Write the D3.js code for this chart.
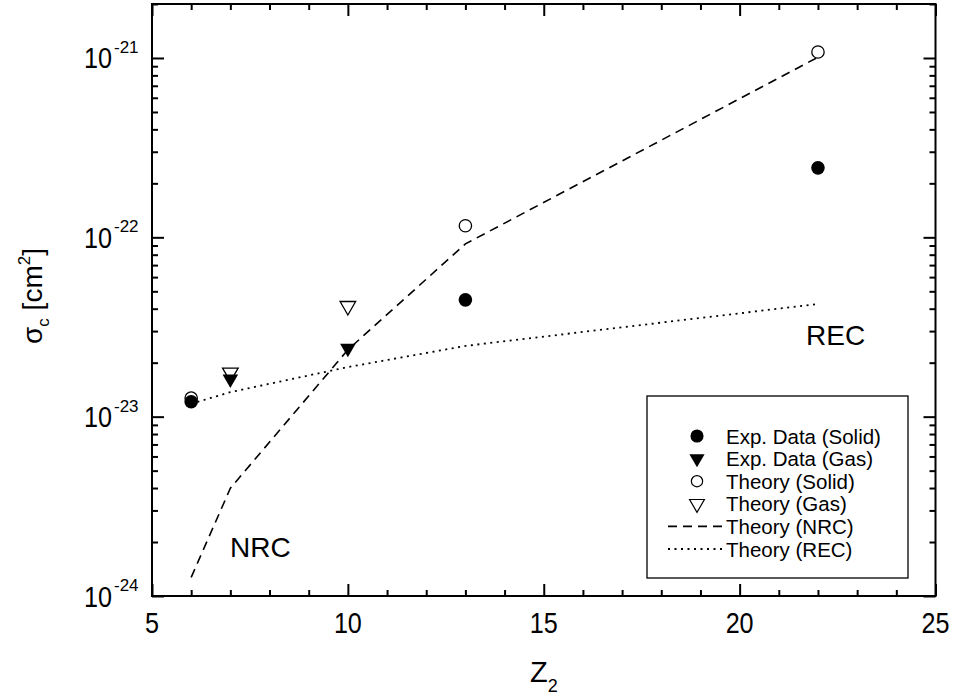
<!DOCTYPE html>
<html>
<head>
<meta charset="utf-8">
<script src="https://cdn.jsdelivr.net/npm/d3@7"></script>
<style>
  body { margin: 0; background: #fff; }
  text { font-family: 'Liberation Sans', Arial, sans-serif; fill: #000; }
  .tick line { stroke: #000; stroke-width: 2; }
</style>
</head>
<body>
<svg id="chart" width="953" height="698"></svg>
<script>
// measured values (Z2 vs cross section in cm^2)
const expSolidZ = [6, 13, 22];
const expSolidVal = [1.21e-23, 4.48e-23, 2.44e-22];
const expGasZ = [7, 10];
const expGasVal = [1.62e-23, 2.41e-23];
const theorySolidZ = [6, 13, 22];
const theorySolidVal = [1.27e-23, 1.16e-22, 1.08e-21];
const theoryGasZ = [7, 10];
const theoryGasVal = [1.76e-23, 4.14e-23];
const curveZ = [6, 7, 10, 13, 22];
const nrcVal = [1.27e-24, 3.99e-24, 2.36e-23, 9.19e-23, 1.01e-21];
const recVal = [1.18e-23, 1.37e-23, 1.89e-23, 2.48e-23, 4.25e-23];
const xMajor = [5, 10, 15, 20, 25];
const yMajorExp = [-24, -23, -22, -21];
const legendLabels = ['Exp. Data (Solid)', 'Exp. Data (Gas)', 'Theory (Solid)', 'Theory (Gas)', 'Theory (NRC)', 'Theory (REC)'];

const plotL = 152, plotR = 935.5, plotT = 4, plotB = 596;

const svg = d3.select('#chart');
const x = d3.scaleLinear().domain([5, 25]).range([plotL, plotR]);
const y = d3.scaleLog().domain([1e-24, 2e-21]).range([plotB, plotT]);

const xMinor = d3.range(6, 25).filter(function (v) { return v % 5 !== 0; });
let yMinor = [];
for (let e = -24; e <= -22; e++) {
    for (let m = 2; m <= 9; m++) yMinor.push(m * Math.pow(10, e));
}
yMinor.push(2e-21);
const yMajor = yMajorExp.map(function (e) { return Math.pow(10, e); });

function addAxis(axisFn, scale, values, size, transform) {
    const g = svg.append('g')
        .attr('transform', transform)
        .call(axisFn(scale).tickValues(values).tickSize(-size).tickFormat(''));
    g.select('.domain').remove();
}

addAxis(d3.axisBottom, x, xMajor, 12, 'translate(0,' + plotB + ')');
addAxis(d3.axisBottom, x, xMinor, 6, 'translate(0,' + plotB + ')');
addAxis(d3.axisTop, x, xMajor, 12, 'translate(0,' + plotT + ')');
addAxis(d3.axisTop, x, xMinor, 6, 'translate(0,' + plotT + ')');
addAxis(d3.axisLeft, y, yMajor, 12, 'translate(' + plotL + ',0)');
addAxis(d3.axisLeft, y, yMinor, 6, 'translate(' + plotL + ',0)');
addAxis(d3.axisRight, y, yMajor, 12, 'translate(' + plotR + ',0)');
addAxis(d3.axisRight, y, yMinor, 6, 'translate(' + plotR + ',0)');

svg.append('rect')
    .attr('x', plotL).attr('y', plotT)
    .attr('width', plotR - plotL).attr('height', plotB - plotT)
    .attr('fill', 'none').attr('stroke', '#000').attr('stroke-width', 2);

// tick labels (the original font is a bit condensed)
svg.selectAll('.xlab').data(xMajor).enter().append('text')
    .attr('x', function (d) { return x(d); })
    .attr('y', plotB + 37)
    .attr('text-anchor', 'middle')
    .attr('textLength', function (d) { return String(d).length * 14; })
    .attr('lengthAdjust', 'spacingAndGlyphs')
    .style('font-size', '30px')
    .text(function (d) { return d; });

const ylab = svg.selectAll('.ylab').data(yMajorExp).enter().append('g');
ylab.append('text')
    .attr('x', 112)
    .attr('y', function (d) { return y(Math.pow(10, d)) + 10.5; })
    .attr('text-anchor', 'end')
    .attr('textLength', 28)
    .attr('lengthAdjust', 'spacingAndGlyphs')
    .style('font-size', '29px')
    .text('10');
ylab.append('text')
    .attr('x', 114)
    .attr('y', function (d) { return y(Math.pow(10, d)) - 5; })
    .style('font-size', '17px')
    .text(function (d) { return d; });

// axis titles
const xt = svg.append('text')
    .attr('x', 530).attr('y', 682)
    .style('font-size', '29px');
xt.append('tspan').text('Z');
xt.append('tspan').attr('dy', 10).style('font-size', '18px').text('2');

const yt = svg.append('text')
    .attr('transform', 'translate(42,296) rotate(-90)')
    .attr('text-anchor', 'middle')
    .style('font-size', '28px');
yt.append('tspan').text('σ');
yt.append('tspan').attr('dy', 7).style('font-size', '17px').text('c');
yt.append('tspan').attr('dy', -7).text(' [cm');
yt.append('tspan').attr('dy', -12).style('font-size', '17px').text('2');
yt.append('tspan').attr('dy', 12).text(']');

// theory curves
const line = d3.line()
    .x(function (d) { return x(d[0]); })
    .y(function (d) { return y(d[1]); });

svg.append('path')
    .datum(d3.zip(curveZ, nrcVal))
    .attr('d', line)
    .attr('fill', 'none').attr('stroke', '#000')
    .attr('stroke-width', 1.6).attr('stroke-dasharray', '9,6');

svg.append('path')
    .datum(d3.zip(curveZ, recVal))
    .attr('d', line)
    .attr('fill', 'none').attr('stroke', '#000')
    .attr('stroke-width', 1.8).attr('stroke-dasharray', '2,4.5');

// markers
const circleSym = d3.symbol().type(d3.symbolCircle).size(145);
const triSym = d3.symbol().type(d3.symbolTriangle).size(105);

function drawPoints(zs, vals, sym, filled, isTri) {
    svg.append('g').selectAll('path')
        .data(d3.zip(zs, vals)).enter().append('path')
        .attr('d', sym)
        .attr('transform', function (d) {
            const rot = isTri ? ' rotate(180)' : '';
            return 'translate(' + x(d[0]) + ',' + y(d[1]) + ')' + rot;
        })
        .attr('fill', filled ? '#000' : '#fff')
        .attr('stroke', '#000')
        .attr('stroke-width', filled ? 0 : 1.3);
}

drawPoints(theorySolidZ, theorySolidVal, d3.symbol().type(d3.symbolCircle).size(120), false, false);
drawPoints(theoryGasZ, theoryGasVal, triSym, false, true);
drawPoints(expSolidZ, expSolidVal, circleSym, true, false);
drawPoints(expGasZ, expGasVal, triSym, true, true);

// region labels
svg.append('text').attr('x', 230).attr('y', 557).style('font-size', '28px').text('NRC');
svg.append('text').attr('x', 806).attr('y', 345).style('font-size', '28px').text('REC');

// legend
const lg = svg.append('g');
lg.append('rect')
    .attr('x', 647).attr('y', 396).attr('width', 261).attr('height', 182)
    .attr('fill', '#fff').attr('stroke', '#000').attr('stroke-width', 1.3);

const rowY = d3.scalePoint().domain(legendLabels).range([436, 549]);
const symX = 697;

lg.selectAll('.lt').data(legendLabels).enter().append('text')
    .attr('x', 726)
    .attr('y', function (d) { return rowY(d) + 7.5; })
    .style('font-size', '20.5px')
    .text(function (d) { return d; });

const legendMarks = [
    { sym: d3.symbol().type(d3.symbolCircle).size(135), fill: '#000', rot: 0 },
    { sym: d3.symbol().type(d3.symbolTriangle).size(100), fill: '#000', rot: 180 },
    { sym: d3.symbol().type(d3.symbolCircle).size(100), fill: '#fff', rot: 0 },
    { sym: d3.symbol().type(d3.symbolTriangle).size(95), fill: '#fff', rot: 180 }
];
legendMarks.forEach(function (m, i) {
    lg.append('path')
        .attr('d', m.sym)
        .attr('transform', 'translate(' + symX + ',' + rowY(legendLabels[i]) + ') rotate(' + m.rot + ')')
        .attr('fill', m.fill)
        .attr('stroke', '#000')
        .attr('stroke-width', m.fill === '#000' ? 0 : 1.2);
});
lg.append('line')
    .attr('x1', 668).attr('x2', 722)
    .attr('y1', rowY(legendLabels[4])).attr('y2', rowY(legendLabels[4]))
    .attr('stroke', '#000').attr('stroke-width', 1.6).attr('stroke-dasharray', '9,6');
lg.append('line')
    .attr('x1', 668).attr('x2', 722)
    .attr('y1', rowY(legendLabels[5])).attr('y2', rowY(legendLabels[5]))
    .attr('stroke', '#000').attr('stroke-width', 1.8).attr('stroke-dasharray', '2,4.5');
</script>
</body>
</html>
